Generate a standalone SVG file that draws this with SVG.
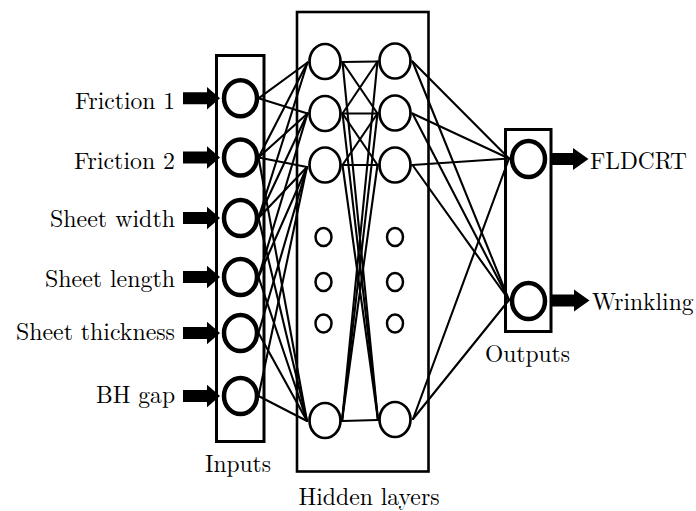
<svg xmlns="http://www.w3.org/2000/svg" width="696" height="511" viewBox="0 0 696 511">
<style>
.box{fill:none;stroke:#000;stroke-width:3}
.big{fill:#fff;stroke:#000;stroke-width:4.5}
.hid{fill:#fff;stroke:#000;stroke-width:2.7}
.dot{fill:#fff;stroke:#000;stroke-width:2.5}
text{font-family:'Latin Modern Roman','Liberation Serif',serif;font-size:24px;fill:#000}
.conn line{stroke:#000;stroke-width:2.1;stroke-linecap:round}
.arr{fill:#000}
</style>
<g id="input-box"><rect class="box" x="216.5" y="55.5" width="47.5" height="386"/><text x="238" y="471.5" text-anchor="middle" textLength="66" lengthAdjust="spacingAndGlyphs">Inputs</text></g>
<g id="hidden-box"><rect class="box" x="297" y="12" width="131.5" height="459.5" style="stroke-width:2.6"/><text x="369" y="505" text-anchor="middle" textLength="141" lengthAdjust="spacingAndGlyphs">Hidden layers</text></g>
<g id="output-box"><rect class="box" x="505.5" y="129.5" width="45.5" height="202"/><text x="527.5" y="361.5" text-anchor="middle" textLength="85" lengthAdjust="spacingAndGlyphs">Outputs</text></g>

<g id="connectors" class="conn">
<line x1="258.5" y1="98.3" x2="307.5" y2="62.5"/>
<line x1="258.5" y1="98.3" x2="307.5" y2="113.5"/>
<line x1="258.5" y1="157.5" x2="307.5" y2="62.5"/>
<line x1="258.5" y1="157.5" x2="307.5" y2="113.5"/>
<line x1="258.5" y1="157.5" x2="307" y2="167"/>
<line x1="258.5" y1="157.5" x2="307" y2="421"/>
<line x1="258.5" y1="218" x2="307.5" y2="62.5"/>
<line x1="258.5" y1="218" x2="307.5" y2="113.5"/>
<line x1="258.5" y1="218" x2="307" y2="167"/>
<line x1="258.5" y1="218" x2="307" y2="421"/>
<line x1="258.5" y1="277" x2="307.5" y2="113.5"/>
<line x1="258.5" y1="277" x2="307" y2="167"/>
<line x1="258.5" y1="277" x2="307" y2="421"/>
<line x1="258.5" y1="333" x2="307" y2="167"/>
<line x1="258.5" y1="333" x2="307" y2="421"/>
<line x1="258.5" y1="396" x2="307" y2="167"/>
<line x1="258.5" y1="396" x2="307" y2="421"/>
<line x1="342.5" y1="62" x2="377.5" y2="61.5"/>
<line x1="342.5" y1="113.5" x2="377.5" y2="113.5"/>
<line x1="342.5" y1="165" x2="377.5" y2="165"/>
<line x1="342.5" y1="421" x2="377.5" y2="420"/>
<line x1="342.5" y1="62" x2="377.5" y2="113.5"/>
<line x1="342.5" y1="113.5" x2="377.5" y2="61.5"/>
<line x1="342.5" y1="113.5" x2="377.5" y2="165"/>
<line x1="342.5" y1="165" x2="377.5" y2="113.5"/>
<line x1="342.5" y1="62" x2="378" y2="420"/>
<line x1="342.5" y1="113.5" x2="378" y2="420"/>
<line x1="342.5" y1="165" x2="378" y2="420"/>
<line x1="342" y1="421" x2="377.5" y2="61.5"/>
<line x1="342" y1="421" x2="377.5" y2="113.5"/>
<line x1="342" y1="421" x2="377.5" y2="165"/>
<line x1="412.5" y1="61.5" x2="509" y2="158.5"/>
<line x1="412.5" y1="61.5" x2="509" y2="300"/>
<line x1="412.5" y1="113.5" x2="509" y2="158.5"/>
<line x1="412.5" y1="113.5" x2="509" y2="300"/>
<line x1="412.5" y1="165" x2="509" y2="158.5"/>
<line x1="412.5" y1="165" x2="509" y2="300"/>
<line x1="413" y1="419" x2="509" y2="158.5"/>
<line x1="413" y1="419" x2="509" y2="300"/>
</g>

<g id="in-friction1"><polygon class="arr" points="183,92.3 207,92.3 207,87 220,98.3 207,109.6 207,104.3 183,104.3"/><ellipse class="big" cx="240.5" cy="98.3" rx="16.5" ry="18"/><text x="175" y="108.5" text-anchor="end" textLength="100" lengthAdjust="spacingAndGlyphs">Friction 1</text></g>
<g id="in-friction2"><polygon class="arr" points="183,151.5 207,151.5 207,146.2 220,157.5 207,168.8 207,163.5 183,163.5"/><ellipse class="big" cx="240.5" cy="157.5" rx="16.5" ry="18"/><text x="175" y="169" text-anchor="end" textLength="101" lengthAdjust="spacingAndGlyphs">Friction 2</text></g>
<g id="in-sheetwidth"><polygon class="arr" points="183,212 207,212 207,206.7 220,218 207,229.3 207,224 183,224"/><ellipse class="big" cx="240.5" cy="218" rx="16.5" ry="18"/><text x="175" y="227" text-anchor="end" textLength="125" lengthAdjust="spacingAndGlyphs">Sheet width</text></g>
<g id="in-sheetlength"><polygon class="arr" points="183,271 207,271 207,265.7 220,277 207,288.3 207,283 183,283"/><ellipse class="big" cx="240.5" cy="277" rx="16.5" ry="18"/><text x="175" y="286.5" text-anchor="end" textLength="130" lengthAdjust="spacingAndGlyphs">Sheet length</text></g>
<g id="in-sheetthickness"><polygon class="arr" points="183,327 207,327 207,321.7 220,333 207,344.3 207,339 183,339"/><ellipse class="big" cx="240.5" cy="333" rx="16.5" ry="18"/><text x="175" y="339.5" text-anchor="end" textLength="159" lengthAdjust="spacingAndGlyphs">Sheet thickness</text></g>
<g id="in-bhgap"><polygon class="arr" points="183,390 207,390 207,384.7 220,396 207,407.3 207,402 183,402"/><ellipse class="big" cx="240.5" cy="396" rx="16.5" ry="18"/><text x="175" y="403" text-anchor="end" textLength="79" lengthAdjust="spacingAndGlyphs">BH gap</text></g>

<g id="h1-0"><ellipse class="hid" cx="325" cy="61.5" rx="15.5" ry="17.5"/></g>
<g id="h1-1"><ellipse class="hid" cx="325" cy="113.5" rx="15.5" ry="17.5"/></g>
<g id="h1-2"><ellipse class="hid" cx="325" cy="165" rx="15.5" ry="17.5"/></g>
<g id="h1-dots"><ellipse class="dot" cx="323.5" cy="237" rx="8" ry="9"/><ellipse class="dot" cx="323.5" cy="282" rx="8" ry="9"/><ellipse class="dot" cx="323.5" cy="323.5" rx="8" ry="9"/></g>
<g id="h1-n"><ellipse class="hid" cx="325" cy="420.5" rx="15.5" ry="17.5"/></g>
<g id="h2-0"><ellipse class="hid" cx="395" cy="61" rx="15.5" ry="17.5"/></g>
<g id="h2-1"><ellipse class="hid" cx="395" cy="113" rx="15.5" ry="17.5"/></g>
<g id="h2-2"><ellipse class="hid" cx="395" cy="165" rx="15.5" ry="17.5"/></g>
<g id="h2-dots"><ellipse class="dot" cx="395" cy="237" rx="8" ry="9"/><ellipse class="dot" cx="395" cy="282" rx="8" ry="9"/><ellipse class="dot" cx="395" cy="323.5" rx="8" ry="9"/></g>
<g id="h2-n"><ellipse class="hid" cx="395" cy="419.5" rx="15.5" ry="17.5"/></g>

<g id="out-fldcrt"><polygon class="arr" points="551,153 573,153 573,148 588.5,159 573,170 573,165 551,165"/><ellipse class="big" cx="528.5" cy="159" rx="16.5" ry="18"/><text x="590" y="169" textLength="97" lengthAdjust="spacingAndGlyphs">FLDCRT</text></g>
<g id="out-wrinkling"><polygon class="arr" points="551,294.5 574,294.5 574,289.5 589.5,300.5 574,311.5 574,306.5 551,306.5"/><ellipse class="big" cx="528.5" cy="301" rx="16.5" ry="18"/><text x="592" y="309.5" textLength="101.5" lengthAdjust="spacingAndGlyphs">Wrinkling</text></g>
</svg>
